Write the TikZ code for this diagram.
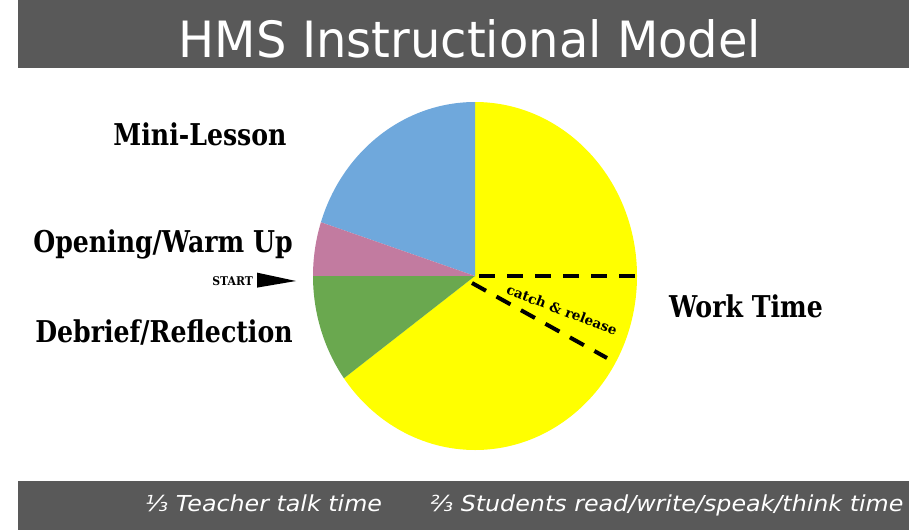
\documentclass[tikz,border=0pt]{standalone}
\usepackage{fontspec}
\usetikzlibrary{calc}
\setmainfont{DejaVu Sans}
\newfontfamily\slab{DejaVu Serif}

\definecolor{bargray}{HTML}{595959}
\definecolor{worky}{HTML}{FFFF00}
\definecolor{minib}{HTML}{6FA8DC}
\definecolor{openp}{HTML}{C27BA0}
\definecolor{debrg}{HTML}{6AA84F}

\tikzset{
	parttext/.style={font=\slab\bfseries\fontsize{30}{30}\selectfont, xscale=0.84, inner sep=0pt, anchor=base},
	bartext/.style={text=white, inner sep=0pt},
	catchline/.style={line width=4pt, dash pattern=on 16pt off 12pt},
}

\begin{document}
\begin{tikzpicture}[x=1pt, y=-1pt]
	\useasboundingbox (0,0) rectangle (909,530);

	% top and bottom bars
	\fill [bargray] (18,0) rectangle (909,68);
	\fill [bargray] (18,481) rectangle (909,530);
	\node [bartext, font=\fontsize{50}{50}\selectfont, xscale=0.96] (title) at (470,39) {HMS Instructional Model};
	\node [bartext, font=\itshape\fontsize{22}{22}\selectfont, xscale=1.08, anchor=base west] (teacher) at (145,511) {⅓ Teacher talk time};
	\node [bartext, font=\itshape\fontsize{22}{22}\selectfont, xscale=1.08, anchor=base west] (students) at (430,511) {⅔ Students read/write/speak/think time};

	% the pie, slightly taller than wide
	\begin{scope}[shift={(475,276)}, x=162pt, y=174pt]
		\fill [worky] (0,0) -- (90:1) arc [start angle=90, end angle=-144, radius=1] -- cycle;
		\fill [minib] (0,0) -- (90:1) arc [start angle=90, end angle=162, radius=1] -- cycle;
		\fill [openp] (0,0) -- (162:1) arc [start angle=162, end angle=180, radius=1] -- cycle;
		\fill [debrg] (0,0) -- (180:1) arc [start angle=180, end angle=216, radius=1] -- cycle;
	\end{scope}

	% catch & release wedge
	\coordinate (hubA) at (479,276);
	\coordinate (rimA) at (637,276);
	\coordinate (hubB) at (472,283);
	\coordinate (rimB) at (607,358);
	\draw [catchline] (hubA) -- (rimA);
	\draw [catchline] (hubB) -- (rimB);
	\node [font=\slab\bfseries\fontsize{13.5}{13.5}\selectfont, rotate=-21] (catch) at (562,310) {catch \& release};

	% labels
	\node [parttext] (mini) at (200,145) {Mini-Lesson};
	\node [parttext] (opening) at (163,252) {Opening/Warm Up};
	\node [parttext] (debrief) at (164,342) {Debrief/Reflection};
	\node [parttext] (work) at (746,317) {Work Time};

	% start marker
	\node [font=\slab\bfseries\fontsize{12}{12}\selectfont, xscale=0.9, inner sep=0pt, anchor=base east] (start) at (253,285) {START};
	\coordinate (tip) at (296,281);
	\fill ($(start.east)+(4,-8)$) -- (tip) -- ($(start.east)+(4,7)$) -- cycle;
\end{tikzpicture}
\end{document}
